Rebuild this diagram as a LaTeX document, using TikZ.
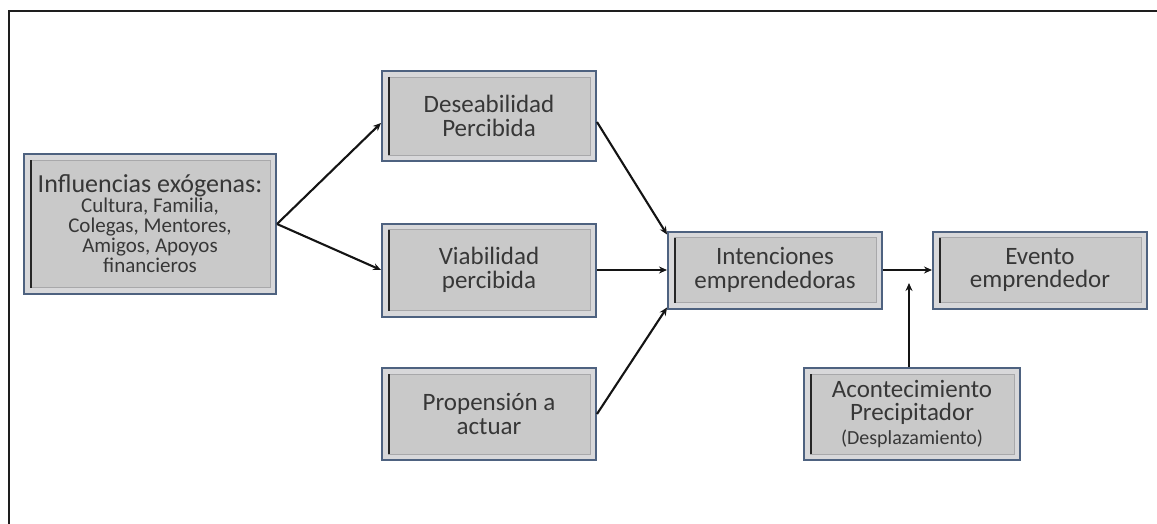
\documentclass[tikz,border=0pt]{standalone}
\usepackage{fontspec}
\setmainfont{Carlito}
\usetikzlibrary{arrows.meta}

\definecolor{boxedge}{RGB}{78,98,128}
\definecolor{boxfill}{RGB}{201,201,201}
\definecolor{boxband}{RGB}{216,216,218}
\definecolor{boxinner}{RGB}{168,168,170}
\definecolor{textgray}{RGB}{55,55,55}
\definecolor{linkcol}{RGB}{20,20,20}
\definecolor{framecol}{RGB}{30,30,30}

\tikzset{
  stagebox/.style={
    draw=boxedge, line width=2pt, fill=boxband,
    minimum width=214pt, minimum height=92pt, inner sep=0pt,
    align=center, text=textgray, font=\fontsize{25}{23.5}\selectfont,
    path picture={
      \fill[boxfill, draw=boxinner, line width=0.8pt]
        ([shift={(6pt,-6pt)}]path picture bounding box.north west) rectangle
        ([shift={(-6pt,6pt)}]path picture bounding box.south east);
      \draw[black!85, line width=1.8pt]
        ([shift={(7pt,-6pt)}]path picture bounding box.north west) --
        ([shift={(7pt,6pt)}]path picture bounding box.south west);
    }},
  link/.style={draw=linkcol, line width=2.1pt, -{Stealth[length=8pt,width=7pt]}},
  frameline/.style={draw=framecol, line width=2pt},
}

\begin{document}
\begin{tikzpicture}[x=1pt, y=-1pt]
  \useasboundingbox (0,0) rectangle (1157,524);

  % outer frame (top and left edges)
  \draw[frameline] (9,524) -- (9,11) -- (1157,11);

  % stages
  \node[stagebox, minimum width=252pt, minimum height=139pt,
        font=\fontsize{21}{20}\selectfont] (infl) at (150,224)
    {{\fontsize{26}{20}\selectfont Influencias exógenas:}\\
     Cultura, Familia,\\ Colegas, Mentores,\\ Amigos, Apoyos\\ financieros};
  \node[stagebox, minimum height=90pt] (des) at (489,116) {Deseabilidad\\ Percibida};
  \node[stagebox, minimum height=93pt] (via) at (489,270) {Viabilidad\\ percibida};
  \node[stagebox] (pro) at (489,414) {Propensión a\\ actuar};
  \node[stagebox, minimum height=77pt] (int) at (775,270) {Intenciones\\ emprendedoras};
  \node[stagebox, minimum height=77pt] (evt) at (1040,270) {Evento\\ emprendedor};
  \node[stagebox, minimum width=216pt] (aco) at (912,414)
    {Acontecimiento\\ Precipitador\\ {\fontsize{20}{20}\selectfont (Desplazamiento)}};

  \coordinate (hit) at (909,283);

  % connectors
  \draw[link] (infl.east) -- ([yshift=-7pt]des.west);
  \draw[link] (infl.east) -- (via.west);
  \draw[link] ([yshift=-6pt]des.east) -- ([yshift=-4pt]int.north west);
  \draw[link] (via.east) -- (int.west);
  \draw[link] (pro.east) -- ([yshift=2pt]int.south west);
  \draw[link] (int.east) -- (evt.west);
  \draw[link] ([xshift=-3pt]aco.north) -- (hit);
\end{tikzpicture}
\end{document}
